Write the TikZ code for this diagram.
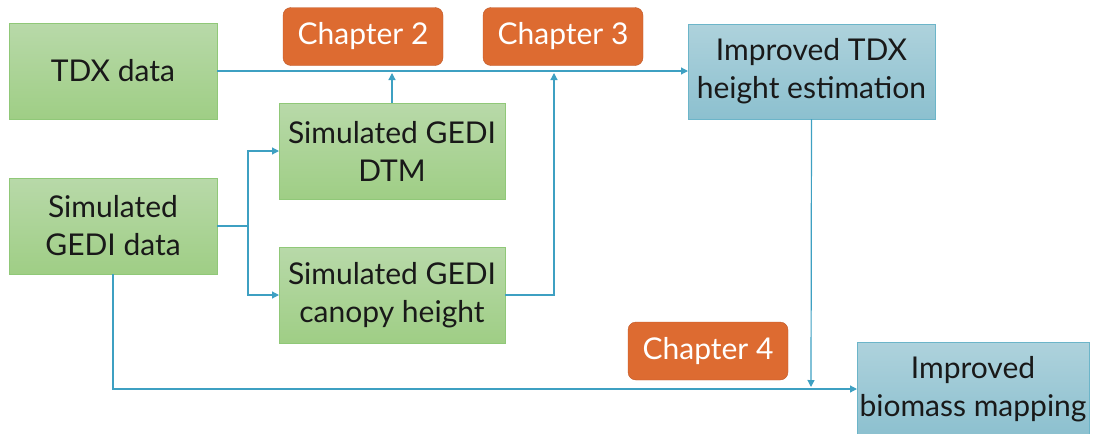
\documentclass[tikz,border=0pt]{standalone}
\usepackage{fontspec}
\setmainfont{Lato}
\usetikzlibrary{positioning,arrows.meta}
\definecolor{greentop}{HTML}{B8D9A9}
\definecolor{greenbot}{HTML}{9FCE85}
\definecolor{greenedge}{HTML}{90C878}
\definecolor{bluetop}{HTML}{AED2DC}
\definecolor{bluebot}{HTML}{8CC0CF}
\definecolor{blueedge}{HTML}{6CB5C9}
\definecolor{chapfill}{HTML}{DD6B31}
\definecolor{chapedge}{HTML}{BE5A2B}
\definecolor{linkcol}{HTML}{3EA0C2}

\begin{document}
\begin{tikzpicture}[x=1pt,y=-1pt,
    every node/.style={font=\fontsize{30}{38}\selectfont, align=center, inner sep=0pt, outer sep=0pt, text=black!90},
    data/.style={draw=greenedge, line width=1pt, top color=greentop, bottom color=greenbot, minimum width=208pt, minimum height=96pt},
    result/.style={draw=blueedge, line width=1pt, top color=bluetop, bottom color=bluebot, minimum height=95pt},
    chapter/.style={draw=chapedge, fill=chapfill, rounded corners=8pt, text=white, minimum width=160pt, minimum height=58pt},
    link/.style={draw=linkcol, line width=1.2pt, -{Triangle[length=7pt,width=7pt]}}]
    \useasboundingbox (0,0) rectangle (1096,434);
    \node[data] (tdx) at (113,71) {TDX data};
    \node[data, below=59pt of tdx] (gedi) {Simulated\\GEDI data};
    \node[data, minimum width=226pt] (dtm) at (392,151) {Simulated GEDI\\DTM};
    \node[data, minimum width=226pt, below=48pt of dtm] (canopy) {Simulated GEDI\\canopy height};
    \node[chapter] (ch2) at (363,36.5) {Chapter 2};
    \node[chapter, right=40pt of ch2] (ch3) {Chapter 3};
    \node[result, minimum width=247pt] (imptdx) at (811.5,71.5) {Improved TDX\\height estimation};
    \node[chapter] (ch4) at (708,351) {Chapter 4};
    \node[result, minimum width=232pt, minimum height=94pt] (biomass) at (973,389) {Improved\\biomass mapping};
    % connectors
    \coordinate (fork) at (248,226);
    \coordinate (up2) at (392,73);
    \coordinate (up3) at (554,73);
    \coordinate (down4) at (811,387);
    \draw[link] (tdx.east) -- (imptdx.west |- tdx.east);
    \draw[link] (gedi.east) -- (fork) |- (dtm.west);
    \draw[link] (fork) |- (canopy.west);
    \draw[link] (dtm.north) -- (up2);
    \draw[link] (canopy.east) -| (up3);
    \draw[link] (imptdx.south) -- (down4);
    \draw[link] (gedi.south) |- (biomass.west);
\end{tikzpicture}
\end{document}
